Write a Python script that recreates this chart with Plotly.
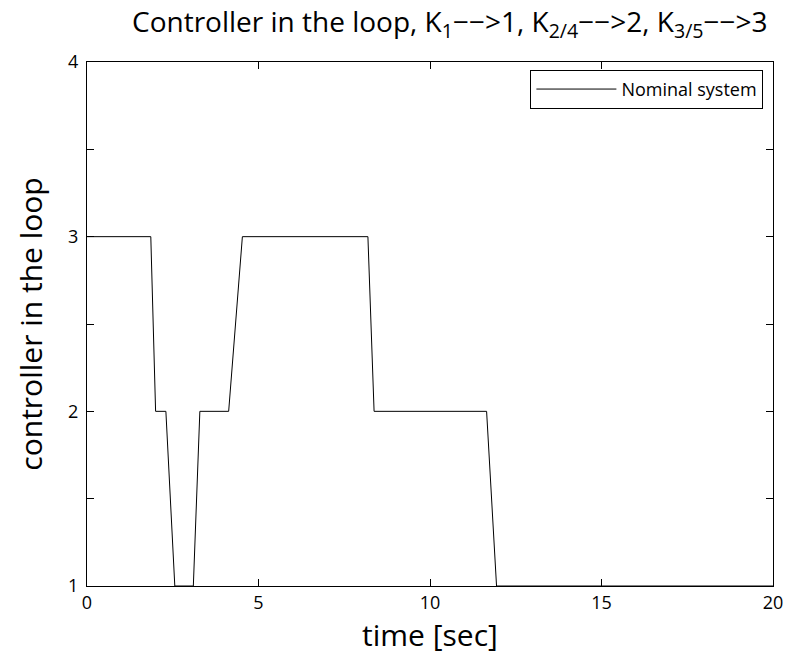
import plotly.graph_objects as go

# Data
time_s = [0.0, 1.86, 2.00, 2.30, 2.56, 3.10, 3.29, 4.13, 4.53, 8.19, 8.37, 11.65, 11.94, 20.0]
controller = [3, 3, 2, 2, 1, 1, 2, 2, 3, 3, 2, 2, 1, 1]

x_ticks = [0, 5, 10, 15, 20]
y_ticks = [1, 2, 3, 4]

FONT = "Open Sans"

fig = go.Figure()
fig.add_trace(go.Scatter(
    x=time_s, y=controller, mode="lines",
    line=dict(color="black", width=1),
    name="Nominal system",
))

axis_common = dict(
    showline=True, linecolor="black", linewidth=1, mirror="ticks",
    ticks="inside", ticklen=7, tickcolor="black", tickwidth=1,
    showgrid=False, zeroline=False, automargin=False,
    tickfont=dict(family=FONT, size=18, color="black"),
)

fig.update_layout(
    width=785, height=657,
    margin=dict(l=87, r=12, t=62, b=71),
    plot_bgcolor="white", paper_bgcolor="white",
    title=dict(
        text="Controller in the loop, K<sub>1</sub>−−>1, K<sub>2/4</sub>−−>2, K<sub>3/5</sub>−−>3",
        x=0.573, xanchor="center", y=0.966, yanchor="middle",
        font=dict(family=FONT, size=28, color="black"),
    ),
    xaxis=dict(
        range=[0, 20], tickvals=x_ticks,
        title=dict(text="time [sec]", font=dict(family=FONT, size=30, color="black"), standoff=2),
        **axis_common,
    ),
    yaxis=dict(
        range=[1, 4], tickvals=y_ticks, ticklabelstandoff=4,
        minor=dict(dtick=0.5, tick0=1, ticks="inside", ticklen=7, tickcolor="black",
                   tickwidth=1, showgrid=False),
        title=dict(text="controller in the loop", font=dict(family=FONT, size=30, color="black"), standoff=16),
        **axis_common,
    ),
    showlegend=True,
    legend=dict(
        x=0.986, y=0.985, xanchor="right", yanchor="top",
        bgcolor="white", bordercolor="black", borderwidth=1,
        font=dict(family=FONT, size=18, color="black"),
        itemwidth=80, tracegroupgap=0,
    ),
)

fig.write_html(
    "out.html",
    config={"displayModeBar": False},
    post_script="document.body.style.margin='0';document.body.style.overflow='hidden';",
)
